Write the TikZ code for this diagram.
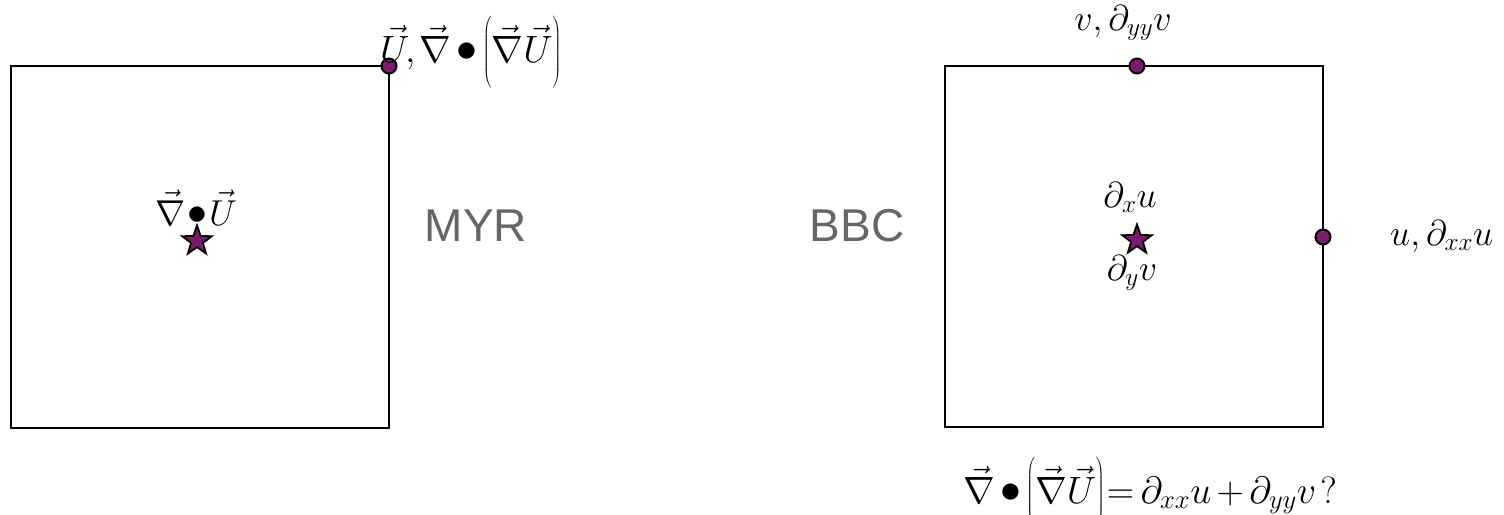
\RequirePackage{fix-cm}
\documentclass[tikz,border=0pt]{standalone}
\usepackage{fontspec}
\usepackage{graphicx}
\newfontfamily\labelsans{Liberation Sans}
\usetikzlibrary{shapes.geometric}
\definecolor{dotpurple}{RGB}{122,27,110}
\definecolor{labelgray}{RGB}{102,102,102}
\newcommand{\bigdot}{\mathbin{\vcenter{\hbox{\scalebox{1.1}{$\bullet$}}}}}
\newcommand{\tallparen}[1]{\left(\rule[-0.2em]{0pt}{1.4em}#1\right)}
\newcommand{\tightmath}{\thinmuskip=2mu \medmuskip=2.5mu \thickmuskip=3mu\relax}
\begin{document}
\begin{tikzpicture}[x=1pt,y=-1pt,
  cellbox/.style={line width=2.5pt},
  gridpt/.style={circle,draw=black,fill=dotpurple,line width=2pt,minimum size=15pt,inner sep=0pt},
  centerpt/.style={star,star points=5,star point ratio=2.5,draw=black,fill=dotpurple,line width=1.8pt,minimum size=31pt,inner sep=0pt},
  mathlbl/.style={inner sep=0pt,anchor=base,font={\fontsize{36}{40}\selectfont}},
  biglbl/.style={inner sep=0pt,anchor=base west,font={\fontsize{38}{42}\selectfont}},
  sanslbl/.style={inner sep=0pt,text=labelgray,font={\labelsans\fontsize{46}{50}\selectfont}}
]
\useasboundingbox (0,0) rectangle (1504,514);
% left cell
\draw[cellbox] (11,66) rectangle (389,428);
\node[gridpt] (lc) at (389,66) {};
\node[centerpt] (ls) at (197,241) {};
\node[mathlbl] (ldiv) at (196,225) {$\vec{\nabla}\!\bigdot\!\vec{U}$};
\node[biglbl] (ltop) at (380,62) {$\tightmath\vec{U}\!,\vec{\nabla}\bigdot\tallparen{\vec{\nabla}\vec{U}}$};
\node[sanslbl] (myr) at (476,226) {MYR};
% right cell
\node[sanslbl] (bbc) at (857,226) {BBC};
\draw[cellbox] (945,66) rectangle (1323,427);
\node[gridpt] (rt) at (1137,66) {};
\node[gridpt] (rr) at (1323,237) {};
\node[centerpt] (rs) at (1137,240) {};
\node[mathlbl] (dxu) at (1130,207) {$\partial_x u$};
\node[mathlbl] (dyv) at (1132,280) {$\partial_y v$};
\node[mathlbl] (vlab) at (1123,30) {$v,\partial_{yy} v$};
\node[mathlbl,anchor=base west] (ulab) at (1390,245) {$u,\partial_{xx} u$};
\node[biglbl] (eq) at (963,503) {$\tightmath\vec{\nabla}\bigdot\tallparen{\vec{\nabla}\vec{U}}\!=\partial_{xx}u+\partial_{yy}v\,?$};
\end{tikzpicture}
\end{document}
